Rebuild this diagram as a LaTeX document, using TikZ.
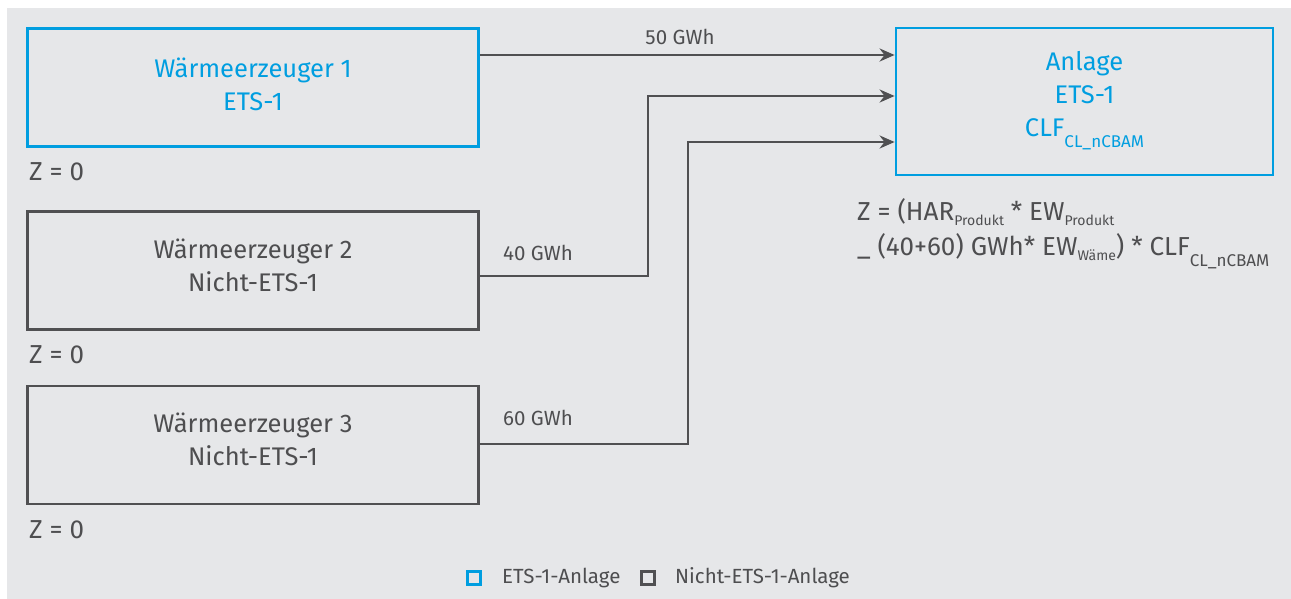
\documentclass[tikz,border=0pt]{standalone}
\usepackage{fontspec}
\setmainfont{Fira Sans}
\usetikzlibrary{arrows.meta,calc}
\definecolor{bg}{RGB}{230,231,233}
\definecolor{ets}{RGB}{0,158,224}
\definecolor{dk}{RGB}{78,78,80}
\definecolor{ln}{RGB}{80,80,82}
\newcommand{\sbx}[1]{\raisebox{-0.35ex}{\fontsize{14}{14}\selectfont #1}}
\newcommand{\sbl}[1]{\raisebox{-0.8ex}{\fontsize{17}{17}\selectfont #1}}
\tikzset{
  etsbox/.style={draw=ets,line width=2.8pt,minimum width=451pt,minimum height=118pt,inner sep=0pt},
  grbox/.style={draw=ln,line width=2.8pt,minimum width=451pt,minimum height=118pt,inner sep=0pt},
  etstxt/.style={text=ets,font=\fontsize{25.5}{33}\selectfont,align=center,inner sep=0pt},
  grtxt/.style={text=dk,font=\fontsize{25.5}{33}\selectfont,align=center,inner sep=0pt},
  arr/.style={draw=ln,line width=2.9pt,-{Stealth[length=15pt,width=13pt]}},
  lbl/.style={text=dk,font=\fontsize{20.5}{20.5}\selectfont,inner sep=0pt},
  zlbl/.style={text=dk,font=\fontsize{26}{26}\selectfont,inner sep=0pt,anchor=west},
}
\begin{document}
\begin{tikzpicture}[x=1pt,y=-1pt]
\useasboundingbox (0,0) rectangle (1291,599);
\fill[bg] (7,8) rectangle (1291,599);
\node[etsbox] (b1) at (253,87.5) {};
\node[grbox] (b2) at (253,270.5) {};
\node[grbox] (b3) at (253,445) {};
\node[etstxt] (b1t) at ($(b1.center)+(0,-3)$) {Wärmeerzeuger 1\\ETS-1};
\node[grtxt] (b2t) at ($(b2.center)+(0,-5)$) {Wärmeerzeuger 2\\Nicht-ETS-1};
\node[grtxt] (b3t) at ($(b3.center)+(0,-6)$) {Wärmeerzeuger 3\\Nicht-ETS-1};
\node[etsbox,minimum width=377pt,minimum height=147pt] (anl) at (1084.5,101.5) {};
\node[etstxt] (anlt) at ($(anl.center)+(0,-1)$) {Anlage\\ETS-1\\CLF\sbl{CL\_nCBAM}};
\node[zlbl] (z1) at (29,172) {Z = 0};
\node[zlbl] (z2) at (29,355) {Z = 0};
\node[zlbl] (z3) at (29,530) {Z = 0};
\coordinate (k2) at (648,276);
\coordinate (k3) at (688,444);
\draw[arr] (b1.east |- 0,55) -- (anl.west |- 0,55);
\draw[arr] (b2.east |- k2) -- (k2) |- (anl.west |- 0,96);
\draw[arr] (b3.east |- k3) -- (k3) |- (anl.west |- 0,142);
\node[lbl] (l1) at (680,37) {50 GWh};
\node[lbl,anchor=west] (l2) at (503,253) {40 GWh};
\node[lbl,anchor=west] (l3) at (503,418) {60 GWh};
\node[zlbl] (f1) at (857,212) {Z = (HAR\sbx{Produkt} * EW\sbx{Produkt}};
\node[zlbl] (f2) at (857,251) {\_ (40+60) GWh* EW\sbx{Wäme}) * CLF\sbl{CL\_nCBAM}};
\node[draw=ets,line width=2.4pt,minimum size=13pt,inner sep=0pt] (lg1) at (474,578) {};
\node[lbl,anchor=west] (lt1) at (502,578) {ETS-1-Anlage};
\node[draw=ln,line width=2.4pt,minimum size=13pt,inner sep=0pt] (lg2) at (648,578) {};
\node[lbl,anchor=west] (lt2) at (675,578) {Nicht-ETS-1-Anlage};
\end{tikzpicture}
\end{document}
